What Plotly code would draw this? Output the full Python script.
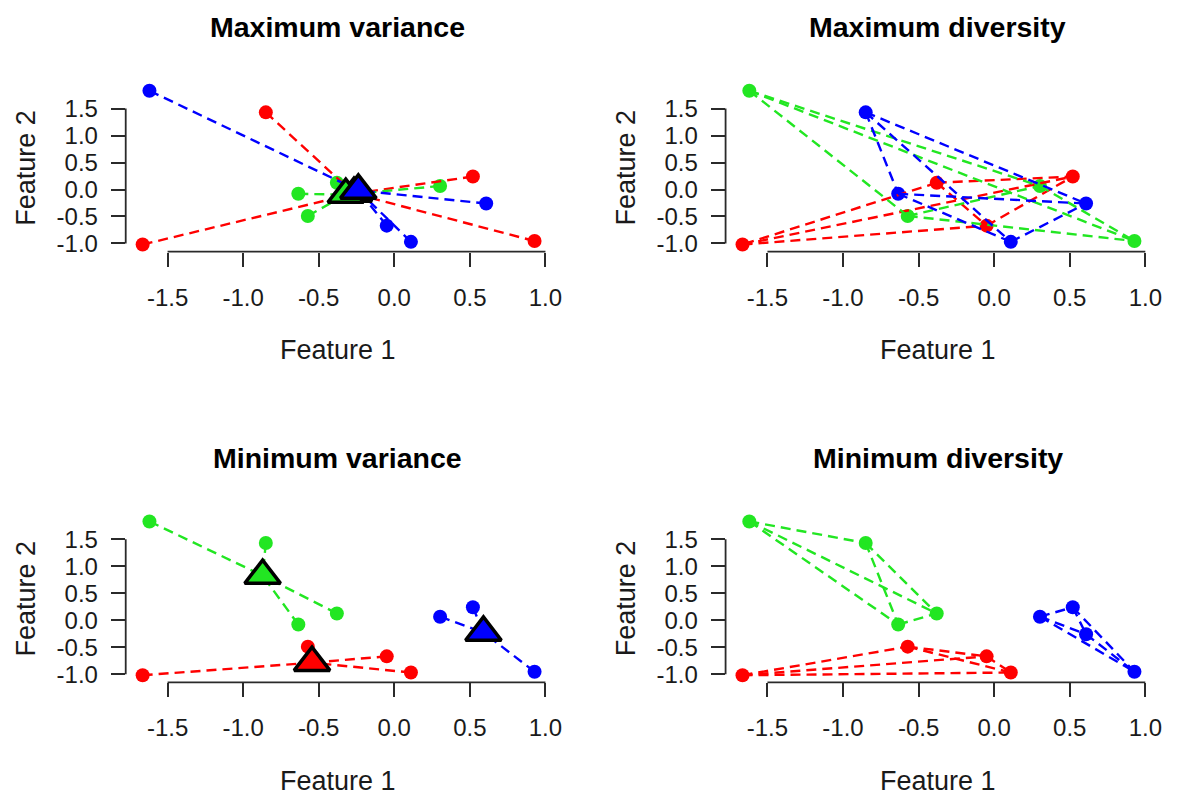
import itertools
import plotly.graph_objects as go

# ---- data: 12 points (A..L) ----
point_x = [-1.62, -0.85, -0.635, -0.38, -1.665, -0.572, -0.05, 0.11, 0.303, 0.52, 0.608, 0.928]
point_y = [1.83, 1.43, -0.08, 0.125, -1.02, -0.49, -0.67, -0.97, 0.065, 0.24, -0.26, -0.955]

# cluster labels per point for each panel (1 = red, 2 = green, 3 = blue)
max_variance_groups = [3, 1, 2, 2, 1, 2, 3, 3, 2, 1, 3, 1]
max_diversity_groups = [2, 3, 3, 1, 1, 2, 1, 3, 2, 1, 3, 2]
min_variance_groups = [2, 2, 2, 2, 1, 1, 1, 1, 3, 3, 3, 3]
min_diversity_groups = [2, 2, 2, 2, 1, 1, 1, 1, 3, 3, 3, 3]

panel_titles = ["Maximum variance", "Maximum diversity", "Minimum variance", "Minimum diversity"]
panel_groups = [max_variance_groups, max_diversity_groups, min_variance_groups, min_diversity_groups]
panel_kind = ["centroid", "pairs", "centroid", "pairs"]

x_ticks = [-1.5, -1.0, -0.5, 0.0, 0.5, 1.0]
y_ticks = [-1.0, -0.5, 0.0, 0.5, 1.0, 1.5]
x_label = "Feature 1"
y_label = "Feature 2"

# ---- styling ----
W, H = 1186, 801
colors = {1: "#FF0000", 2: "#22E622", 3: "#0000FF"}
FONT = "Liberation Sans, Arial, Helvetica, sans-serif"
AXCOL = "#2a2a2a"
TXT = "#1a1a1a"
XRANGE = [-1.777, 1.03]
YRANGE = [-1.153, 1.95]
# plot-region pixel boxes (left, right, top, bottom) for the top-left panel (window coords)
BASE = (127.0, 555.6, 84.8, 253.3)
DX, DY = 606.0, 433.4
offsets = [(0, 0), (DX, 0), (0, DY), (DX, DY)]


def px_x(v):
    return v / W


def px_y(v):
    return 1 - v / H


fig = go.Figure()
shapes = []
annotations = []

for i, (title, groups, kind) in enumerate(zip(panel_titles, panel_groups, panel_kind)):
    ax = "" if i == 0 else str(i + 1)
    xref, yref = "x" + ax, "y" + ax
    ox, oy = offsets[i]
    left, right, top, bottom = BASE[0] + ox, BASE[1] + ox, BASE[2] + oy, BASE[3] + oy

    # points
    for g in (1, 2, 3):
        idx = [k for k, gg in enumerate(groups) if gg == g]
        fig.add_trace(go.Scatter(
            x=[point_x[k] for k in idx], y=[point_y[k] for k in idx],
            mode="markers", xaxis=xref, yaxis=yref, cliponaxis=False,
            marker=dict(size=14, color=colors[g], line=dict(width=0)),
            showlegend=False, hoverinfo="skip"))

    # dashed connections
    centroids = {}
    for g in (1, 2, 3):
        idx = [k for k, gg in enumerate(groups) if gg == g]
        lx, ly = [], []
        if kind == "centroid":
            cx = sum(point_x[k] for k in idx) / len(idx)
            cy = sum(point_y[k] for k in idx) / len(idx)
            centroids[g] = (cx, cy)
            for k in idx:
                lx += [point_x[k], cx, None]
                ly += [point_y[k], cy, None]
        else:
            for a, b in itertools.combinations(idx, 2):
                lx += [point_x[a], point_x[b], None]
                ly += [point_y[a], point_y[b], None]
        fig.add_trace(go.Scatter(
            x=lx, y=ly, mode="lines", xaxis=xref, yaxis=yref, cliponaxis=False,
            line=dict(color=colors[g], width=2.4, dash="10px,6px"),
            showlegend=False, hoverinfo="skip"))

    # centroid triangles
    if kind == "centroid":
        for g in (1, 2, 3):
            cx, cy = centroids[g]
            fig.add_trace(go.Scatter(
                x=[cx], y=[cy], mode="markers", xaxis=xref, yaxis=yref, cliponaxis=False,
                marker=dict(symbol="triangle-up", size=31, color=colors[g],
                            line=dict(color="black", width=3.5)),
                showlegend=False, hoverinfo="skip"))

    common = dict(showgrid=False, zeroline=False, showline=False, ticks="outside",
                  ticklen=14, tickwidth=1.8, tickcolor=AXCOL, fixedrange=True,
                  tickfont=dict(family=FONT, size=24, color=TXT))
    fig.update_layout(**{
        "xaxis" + ax: dict(domain=[px_x(left), px_x(right)], range=XRANGE, anchor=yref,
                           tickvals=x_ticks, ticktext=["%.1f" % v for v in x_ticks],
                           ticklabelstandoff=10, **common),
        "yaxis" + ax: dict(domain=[px_y(bottom), px_y(top)], range=YRANGE, anchor=xref,
                           tickvals=y_ticks, ticktext=["%.1f" % v for v in y_ticks],
                           ticklabelstandoff=8, **common),
    })

    # R-style axis lines spanning the tick range
    shapes.append(dict(type="line", xref=xref, yref=yref + " domain",
                       x0=x_ticks[0], x1=x_ticks[-1], y0=0, y1=0,
                       line=dict(color=AXCOL, width=1.8)))
    shapes.append(dict(type="line", xref=xref + " domain", yref=yref,
                       x0=0, x1=0, y0=y_ticks[0], y1=y_ticks[-1],
                       line=dict(color=AXCOL, width=1.8)))

    cxp = (left + right) / 2
    annotations.append(dict(text="<b>%s</b>" % title, x=px_x(cxp), y=px_y(27.5 + oy),
                            xref="paper", yref="paper", showarrow=False,
                            xanchor="center", yanchor="middle",
                            font=dict(family=FONT, size=28.5, color="black")))
    annotations.append(dict(text=x_label, x=px_x(cxp), y=px_y(352.5 + oy),
                            xref="paper", yref="paper", showarrow=False,
                            xanchor="center", yanchor="middle",
                            font=dict(family=FONT, size=27, color=TXT)))
    annotations.append(dict(text=y_label, x=px_x(26 + ox), y=px_y((top + bottom) / 2),
                            xref="paper", yref="paper", showarrow=False, textangle=-90,
                            xanchor="center", yanchor="middle",
                            font=dict(family=FONT, size=27, color=TXT)))

fig.update_layout(width=W, height=H, margin=dict(l=0, r=0, t=0, b=0),
                  paper_bgcolor="white", plot_bgcolor="white",
                  shapes=shapes, annotations=annotations, showlegend=False)

fig.write_html("out.html", config={"displayModeBar": False},
               post_script="document.body.style.margin='0px';"
                           "document.body.style.overflow='hidden';")
